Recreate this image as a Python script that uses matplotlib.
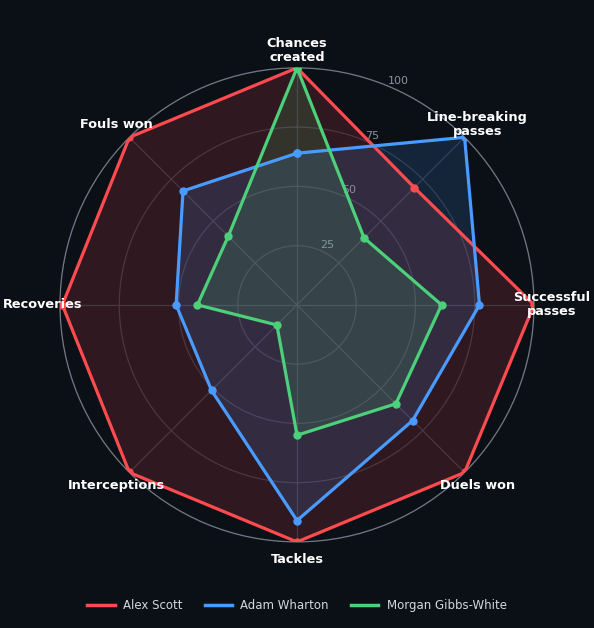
import numpy as np
import matplotlib.pyplot as plt
from matplotlib.lines import Line2D

# --- data ---
categories = ["Chances\ncreated", "Line-breaking\npasses", "Successful\npasses", "Duels won",
              "Tackles", "Interceptions", "Recoveries", "Fouls won"]
alex_scott = [100, 70, 100, 100, 100, 100, 99, 100]
adam_wharton = [64, 100, 77, 69, 91, 51, 51, 68]
gibbs_white = [100, 40, 61, 59, 55, 12, 42, 41]
players = ["Alex Scott", "Adam Wharton", "Morgan Gibbs-White"]
colors = ["#ff4b4f", "#4a9bff", "#4cd07a"]
rticks = [25, 50, 75, 100]

bg = "#0b1017"

n = len(categories)
angles = np.linspace(0, 2 * np.pi, n, endpoint=False)
closed = np.concatenate([angles, angles[:1]])

fig = plt.figure(figsize=(5.94, 6.28), dpi=100, facecolor=bg)
ax = fig.add_axes([0.101, 0.137, 0.798, 0.755], projection="polar", facecolor=bg)
ax.set_theta_offset(np.pi / 2)
ax.set_theta_direction(-1)

for name, vals, c in zip(players, [alex_scott, adam_wharton, gibbs_white], colors):
    v = np.concatenate([vals, vals[:1]])
    ax.plot(closed, v, color=c, lw=2.3, marker="o", ms=5, zorder=3)
    ax.fill(closed, v, color=c, alpha=0.15, zorder=2)

ax.set_ylim(0, 100)
ax.set_yticks(rticks)
ax.set_yticklabels([str(t) for t in rticks], color="#8a93a0", fontsize=8)
ax.set_rlabel_position(22.5)

ax.set_xticks(angles)
ax.set_xticklabels([])
# category labels sit centred just outside the outer ring
for a, lab in zip(angles, categories):
    ax.text(a, 107.5, lab, color="white", fontsize=9.3, fontweight="bold",
            ha="center", va="center", linespacing=1.1, zorder=6, clip_on=False)

ax.grid(color="#2c3440", lw=0.9)
ax.spines["polar"].set_color("#6f7783")
ax.spines["polar"].set_linewidth(0.9)

handles = [Line2D([], [], color=c, lw=2.5) for c in colors]
leg = fig.legend(handles, players, loc="lower center", ncol=3, frameon=False, fontsize=8.5,
                 bbox_to_anchor=(0.5, 0.008), handlelength=2.3, handletextpad=0.7,
                 columnspacing=1.9)
for t in leg.get_texts():
    t.set_color("#d4d8de")

fig.savefig("out.png", dpi=100, facecolor=bg)
